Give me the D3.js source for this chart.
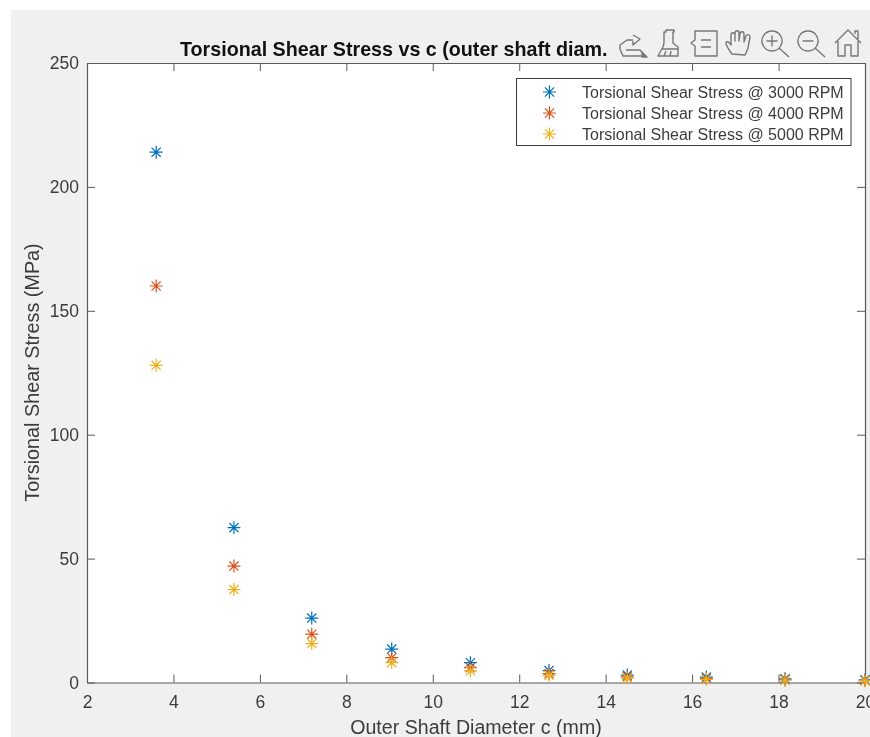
<!DOCTYPE html>
<html>
<head>
<meta charset="utf-8">
<title>Torsional Shear Stress</title>
<script src="https://cdn.jsdelivr.net/npm/d3@7"></script>
<style>
    html, body { margin: 0; padding: 0; background: #fff; overflow: hidden; }
    svg { display: block; filter: blur(0.35px); }
    text { font-family: "Liberation Sans", Arial, sans-serif; fill: #3c3c3c; }
</style>
</head>
<body>
<svg id="chart" width="870" height="737"></svg>
<script>
// ===== DATA =====
const diameters = [3.6, 5.4, 7.2, 9.05, 10.87, 12.69, 14.5, 16.33, 18.15, 20];
const stress3000 = [214, 62.5, 26, 13.5, 8, 4.8, 3, 2.2, 1.5, 1.1];
const stress4000 = [160, 47, 19.5, 10, 6, 3.6, 2.3, 1.6, 1.1, 0.8];
const stress5000 = [128, 37.5, 15.7, 8, 4.7, 2.9, 1.8, 1.3, 0.9, 0.65];

const seriesNames = [
    'Torsional Shear Stress @ 3000 RPM',
    'Torsional Shear Stress @ 4000 RPM',
    'Torsional Shear Stress @ 5000 RPM'
];
const seriesValues = [stress3000, stress4000, stress5000];
const seriesColors = ['#0072bd', '#d95319', '#edb120'];

const xTicks = [2, 4, 6, 8, 10, 12, 14, 16, 18, 20];
const yTicks = [0, 50, 100, 150, 200, 250];

// ===== LAYOUT =====
const svg = d3.select('#chart');
const plotLeft = 87, plotRight = 865, plotTop = 63, plotBottom = 682.5;

const x = d3.scaleLinear().domain([2, 20]).range([plotLeft, plotRight]);
const y = d3.scaleLinear().domain([0, 250]).range([plotBottom, plotTop]);

// Grey figure window with the white margin of the screenshot around it
svg.append('rect').attr('x', 11).attr('y', 10).attr('width', 859).attr('height', 727).attr('fill', '#f0f0f0');
svg.append('rect').attr('x', plotLeft).attr('y', plotTop).attr('width', plotRight - plotLeft).attr('height', plotBottom - plotTop).attr('fill', '#fff');

// ===== AXES =====
const AXIS_COLOR = '#5a5a5a';
const TICK_LEN = 8;

function styleAxis(g) {
    g.selectAll('path.domain').attr('stroke', AXIS_COLOR).attr('stroke-width', 1.2);
    g.selectAll('.tick line').attr('stroke', AXIS_COLOR).attr('stroke-width', 1);
}

svg.append('g')
    .attr('transform', `translate(0,${plotBottom})`)
    .call(d3.axisBottom(x).tickValues(xTicks).tickSize(-TICK_LEN).tickSizeOuter(0).tickPadding(13))
    .call(styleAxis)
    .call(g => g.selectAll('text').attr('font-size', 17.5).style('font-family', '"Liberation Sans", Arial, sans-serif').attr('fill', '#3c3c3c'));

svg.append('g')
    .attr('transform', `translate(${plotLeft},0)`)
    .call(d3.axisLeft(y).tickValues(yTicks).tickSize(-TICK_LEN).tickSizeOuter(0).tickPadding(8))
    .call(styleAxis)
    .call(g => g.selectAll('text').attr('font-size', 17.5).style('font-family', '"Liberation Sans", Arial, sans-serif').attr('fill', '#3c3c3c'));

// Box on: mirrored ticks along top and right
svg.append('g')
    .attr('transform', `translate(0,${plotTop})`)
    .call(d3.axisTop(x).tickValues(xTicks).tickSize(-TICK_LEN).tickSizeOuter(0).tickFormat(''))
    .call(styleAxis);

svg.append('g')
    .attr('transform', `translate(${plotRight},0)`)
    .call(d3.axisRight(y).tickValues(yTicks).tickSize(-TICK_LEN).tickSizeOuter(0).tickFormat(''))
    .call(styleAxis);

// ===== LABELS =====
svg.append('text')
    .attr('x', 180).attr('y', 56)
    .attr('font-size', 19.7).attr('font-weight', 'bold')
    .style('fill', '#111')
    .text('Torsional Shear Stress vs c (outer shaft diam.');

svg.append('text')
    .attr('x', 476).attr('y', 734)
    .attr('text-anchor', 'middle')
    .attr('font-size', 19.6)
    .text('Outer Shaft Diameter c (mm)');

svg.append('text')
    .attr('transform', 'translate(39,372.5) rotate(-90)')
    .attr('text-anchor', 'middle')
    .attr('font-size', 19.8)
    .text('Torsional Shear Stress (MPa)');

// ===== MARKERS =====
// MATLAB style asterisk, eight arms
const asterisk = {
    draw(ctx, size) {
        const r = Math.sqrt(size);
        const d = r * Math.SQRT1_2;
        ctx.moveTo(-r, 0); ctx.lineTo(r, 0);
        ctx.moveTo(0, -r); ctx.lineTo(0, r);
        ctx.moveTo(-d, -d); ctx.lineTo(d, d);
        ctx.moveTo(-d, d); ctx.lineTo(d, -d);
    }
};
const marker = d3.symbol().type(asterisk).size(42);

seriesValues.forEach((values, i) => {
    svg.append('g')
        .selectAll('path')
        .data(values)
        .join('path')
        .attr('d', marker)
        .attr('transform', (d, j) => `translate(${x(diameters[j])},${y(d)})`)
        .attr('fill', 'none')
        .attr('stroke', seriesColors[i])
        .attr('stroke-width', 1.2);
});

// ===== LEGEND =====
const legend = svg.append('g');
legend.append('rect')
    .attr('x', 516.5).attr('y', 78.5).attr('width', 334.5).attr('height', 67)
    .attr('fill', '#fff').attr('stroke', '#3a3a3a').attr('stroke-width', 1);

const legendY = d3.scalePoint().domain(seriesNames).range([92, 134]);

seriesNames.forEach((name, i) => {
    legend.append('path')
        .attr('d', marker)
        .attr('transform', `translate(549.5,${legendY(name)})`)
        .attr('fill', 'none')
        .attr('stroke', seriesColors[i])
        .attr('stroke-width', 1.2);
    legend.append('text')
        .attr('x', 582).attr('y', legendY(name))
        .attr('dy', '0.36em')
        .attr('font-size', 16)
        .text(name);
});

// ===== AXES TOOLBAR ICONS =====
const toolbarIcons = [
    { at: [618, 30], d: 'M2 19 L2 15 L9 10 L15 10 M15 5 L22 9 L15 15 L15 11 M2 19 L5 26 L27 26 L22 20 L8 20 M24 22 L29 27 L24 27 Z' },
    { at: [657, 29], d: 'M9 1 L17 1 L17 3 L16 3 L16 14 L21 18 L21 27 L1 27 L6 18 L7 14 L7 3 L9 3 Z M5 20 L21 20 M7 27 L9 22 M13 27 L14 22' },
    { at: [690, 30], d: 'M5 1 L27 1 L27 26 L5 26 L5 16 L1 13 L5 10 Z M11 10 L21 10 M11 17 L21 17' },
    { at: [725, 30], d: 'M7 24 C4 20 1 15 1 13 C1 11 4 11 6 15 L6 5 C6 2 10 2 10 5 L10 11 L10 3 C10 0 14 0 14 3 L14 11 L15 4 C15 1 19 1 19 4 L19 12 L21 6 C22 4 25 4 25 7 L23 18 C22 21 21 23 20 25 Z' },
    { at: [761, 30], d: 'M11 1 A10 10 0 1 0 11.01 1 Z M18 18 L28 27 M5.5 11 L16.5 11 M11 5.5 L11 16.5' },
    { at: [797, 30], d: 'M11 1 A10 10 0 1 0 11.01 1 Z M18 18 L28 27 M5.5 11 L16.5 11' },
    { at: [834, 29], d: 'M1 14 L14 1 L27 14 M4 12 L4 27 L11 27 L11 16 L17 16 L17 27 L24 27 L24 12 M21 5 L21 2 L24 2 L24 10' }
];

svg.append('g')
    .selectAll('path')
    .data(toolbarIcons)
    .join('path')
    .attr('transform', d => `translate(${d.at[0]},${d.at[1]})`)
    .attr('d', d => d.d)
    .attr('fill', 'none')
    .attr('stroke', '#777')
    .attr('stroke-width', 1.4)
    .attr('stroke-linejoin', 'round');
</script>
</body>
</html>
